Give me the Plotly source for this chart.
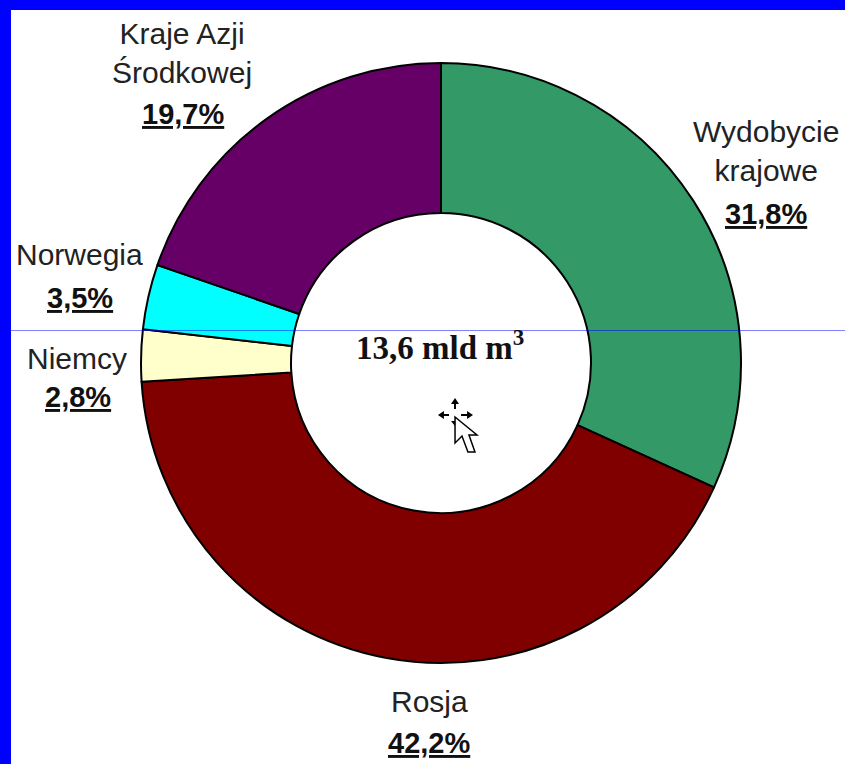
import plotly.graph_objects as go

labels = ["Wydobycie<br>krajowe", "Rosja", "Niemcy", "Norwegia", "Kraje Azji<br>Środkowej"]
values = [31.8, 42.2, 2.8, 3.5, 19.7]
pct_labels = ["31,8%", "42,2%", "2,8%", "3,5%", "19,7%"]
colors = ["#339966", "#800000", "#FFFFCC", "#00FFFF", "#660066"]
center_text = "13,6 mld m<sup>3</sup>"

W, H = 845, 764
cx, cy, r = 441, 363, 300

fig = go.Figure(go.Pie(
    values=values, labels=labels, hole=0.5, sort=False, direction="clockwise", rotation=0,
    marker=dict(colors=colors, line=dict(color="#000000", width=2)),
    textinfo="none", hoverinfo="label+percent", showlegend=False,
    domain=dict(x=[(cx-r)/W, (cx+r)/W], y=[1-(cy+r)/H, 1-(cy-r)/H]),
))


def paper(x, y):
    return x/W, 1-y/H


ann = []
positions = [(766, 151), (429, 701), (77, 358), (79, 254), (182, 53)]
pct_pos = [(766, 214), (429, 743), (78, 397), (80, 298), (183, 114)]
for lab, pct, p, q in zip(labels, pct_labels, positions, pct_pos):
    x, y = paper(*p)
    ann.append(dict(x=x, y=y, xref="paper", yref="paper", text=lab, showarrow=False,
                    xanchor="center", yanchor="middle",
                    font=dict(family="Liberation Sans", size=30, color="#222222")))
    x, y = paper(*q)
    ann.append(dict(x=x, y=y, xref="paper", yref="paper", text="<b><u>"+pct+"</u></b>", showarrow=False,
                    xanchor="center", yanchor="middle",
                    font=dict(family="Liberation Sans", size=29, color="#111111")))
x, y = paper(440, 345)
ann.append(dict(x=x, y=y, xref="paper", yref="paper", text="<b>"+center_text+"</b>", showarrow=False,
                xanchor="center", yanchor="middle",
                font=dict(family="Liberation Serif", size=33, color="#111111")))


def rect(x0, y0, x1, y1, **kw):
    a, b = paper(x0, y0)
    c, d = paper(x1, y1)
    return dict(type="rect", xref="paper", yref="paper", x0=a, y0=b, x1=c, y1=d, **kw)


def poly(pts, **kw):
    s = "M" + " L".join("%.4f,%.4f" % paper(*p) for p in pts) + " Z"
    return dict(type="path", xref="paper", yref="paper", path=s, **kw)


shapes = [
    rect(0, 0, 845, 10, fillcolor="#0000FF", line_width=0, layer="above"),
    rect(0, 0, 11, 764, fillcolor="#0000FF", line_width=0, layer="above"),
    dict(type="line", xref="paper", yref="paper", x0=11/W, x1=1, y0=1-330.5/H, y1=1-330.5/H,
         line=dict(color="rgba(0,0,255,0.5)", width=1), layer="above"),
    # move cursor: arrowheads, cross and pointer
    poly([(455, 398), (451, 404), (459, 404)], fillcolor="#000000", line_width=0, layer="above"),
    poly([(438, 415), (444, 411), (444, 419)], fillcolor="#000000", line_width=0, layer="above"),
    poly([(473, 415), (467, 411), (467, 419)], fillcolor="#000000", line_width=0, layer="above"),
    poly([(455, 426), (451, 421), (459, 421)], fillcolor="#000000", line_width=0, layer="above"),
    poly([(454, 403), (456, 403), (456, 409), (454, 409)], fillcolor="#000000", line_width=0, layer="above"),
    poly([(443, 414), (449, 414), (449, 416), (443, 416)], fillcolor="#000000", line_width=0, layer="above"),
    poly([(461, 414), (468, 414), (468, 416), (461, 416)], fillcolor="#000000", line_width=0, layer="above"),
    poly([(455, 417), (455, 443), (462, 436), (468, 452), (475, 452), (469, 435), (477, 435)],
         fillcolor="#FFFFFF", line=dict(color="#000000", width=1.5), layer="above"),
]

fig.update_layout(width=W, height=H, margin=dict(l=0, r=0, t=0, b=0),
                  paper_bgcolor="#FFFFFF", annotations=ann, shapes=shapes)
fig.write_html("out.html", config=dict(displayModeBar=False),
               post_script="document.body.style.margin='0';document.documentElement.style.overflow='hidden';")
